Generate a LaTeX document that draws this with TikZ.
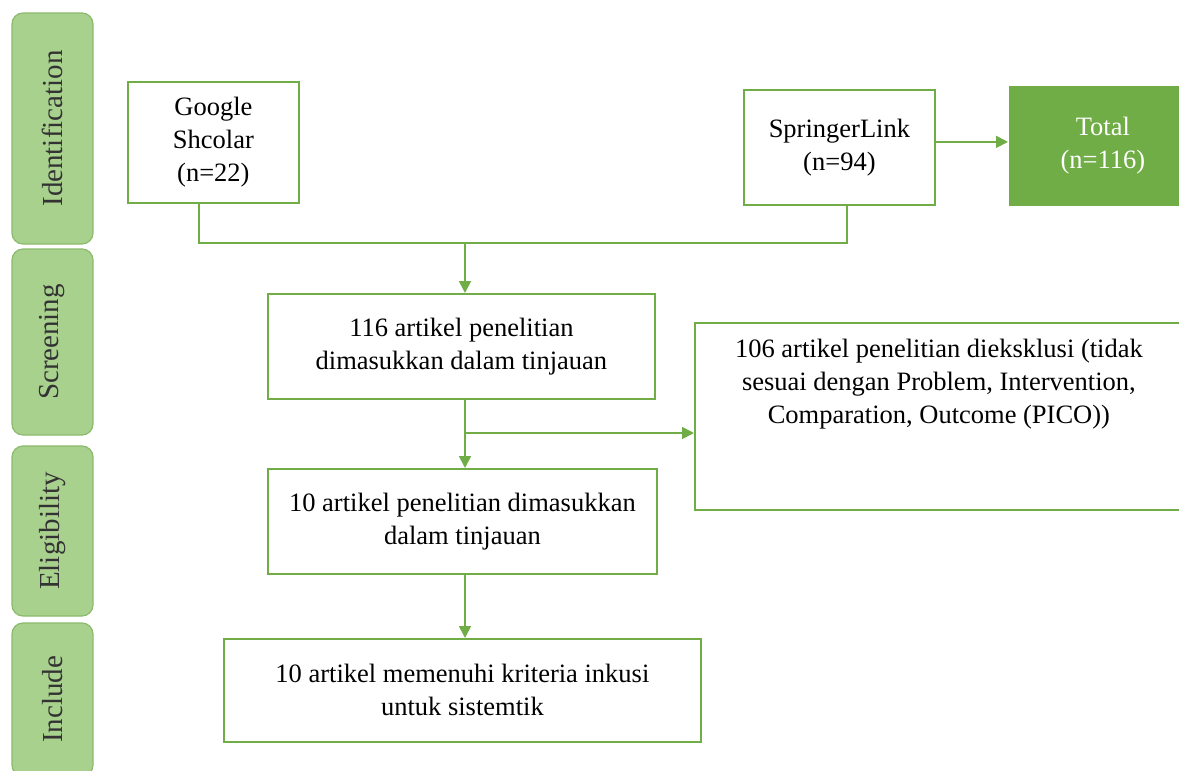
\documentclass[tikz,border=0pt]{standalone}
\usepackage{fontspec}
\setmainfont{Liberation Serif}
\usepackage{xcolor}
\usepackage{tikz}
\usetikzlibrary{arrows.meta,positioning}
\definecolor{grn}{HTML}{70AD47}
\definecolor{stgfill}{HTML}{A9D18E}
\definecolor{stgline}{HTML}{8CBA6C}
\newcommand{\flowfont}{\fontsize{26.5}{33}\selectfont}
\newcommand{\stagefont}{\fontsize{29}{34}\selectfont}

\begin{document}
\begin{tikzpicture}[x=1pt,y=-1pt,>={Triangle[length=12pt,width=12pt]},
  stage/.style={draw=stgline,fill=stgfill,line width=1.2pt,rounded corners=11pt,rotate=90,minimum height=81,text=black!80,font=\stagefont},
  box/.style={draw=grn,line width=1.8pt,fill=white,align=center,font=\flowfont,inner sep=0pt,anchor=north west},
  lab/.style={align=center,font=\flowfont,inner sep=0pt},
  ln/.style={draw=grn,line width=1.8pt},
  arr/.style={ln,->,grn}]
\useasboundingbox (0,0) rectangle (1179,771);
\node[stage,minimum width=231] (idf) at (52.5,128.5) {Identification};
\node[stage,minimum width=186] (scr) at (52.5,342) {Screening};
\node[stage,minimum width=170] (elg) at (52.5,531) {Eligibility};
\node[stage,minimum width=153] (inc) at (52.5,699.5) {Include};
\node[box,minimum width=171,minimum height=121] (gs) at (127,81) {Google\\Shcolar\\(n=22)};
\node[box,minimum width=191,minimum height=115] (spl) at (743,89) {SpringerLink\\(n=94)};
\node[box,draw=none,fill=grn,text=white,minimum width=188,minimum height=120] (tot) at (1008,85) {Total\\(n=116)};
\node[box,minimum width=387,minimum height=105] (s116) at (267,293) {116 artikel penelitian\\dimasukkan dalam tinjauan};
\node[box,minimum width=488,minimum height=187] (excl) at (694,322) {};
\node[lab,below=17pt of excl.north] (excltxt) {106 artikel penelitian dieksklusi (tidak\\sesuai dengan Problem, Intervention,\\Comparation, Outcome (PICO))};
\node[box,minimum width=389,minimum height=105] (e10) at (267,468) {10 artikel penelitian dimasukkan\\dalam tinjauan};
\node[box,minimum width=477,minimum height=103] (inc10) at (223,638) {10 artikel memenuhi kriteria inkusi\\untuk sistemtik};
\coordinate (j1) at (199,243);
\coordinate (j2) at (847,243);
\coordinate (j3) at (465,243);
\coordinate (j4) at (465,433);
\draw[ln] (gs.south -| j1) -- (j1) -- (j2) -- (spl.south -| j2);
\draw[arr] ([yshift=5.5pt]spl.east) -- ([yshift=5.5pt]spl.east -| tot.west);
\draw[arr] (j3) -- (j3 |- s116.north);
\draw[arr] (s116.south -| j3) -- (e10.north -| j3);
\draw[arr] (j4) -- (j4 -| excl.west);
\draw[arr] (e10.south -| j3) -- (inc10.north -| j3);
\end{tikzpicture}
\end{document}
